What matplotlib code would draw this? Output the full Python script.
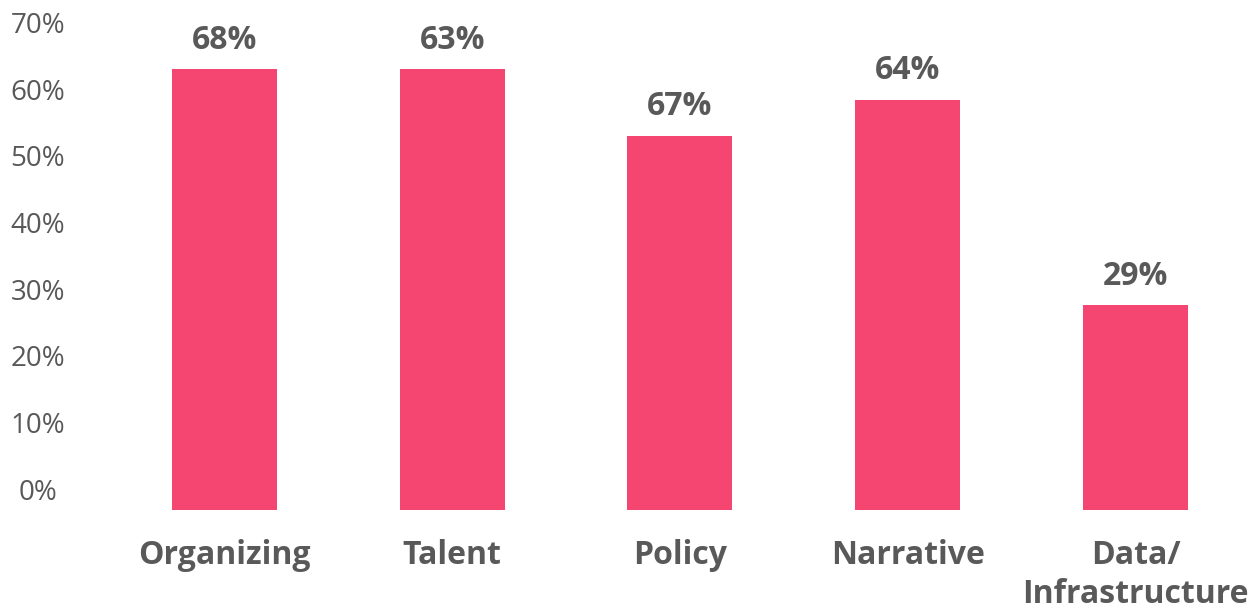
import matplotlib.pyplot as plt
import matplotlib.transforms as mtransforms

# 数据
categories = ["Organizing", "Talent", "Policy", "Narrative", "Data/\nInfrastructure"]
bar_values = [66.1, 66.1, 56.1, 61.5, 30.7]   # 柱子高度
bar_labels = ["68%", "63%", "67%", "64%", "29%"]  # 柱顶标注
y_ticks = [0, 10, 20, 30, 40, 50, 60, 70]

BAR_COLOR = "#F44670"
TEXT_COLOR = "#595959"

plt.rcParams['font.family'] = ['Open Sans', 'DejaVu Sans']

fig = plt.figure(figsize=(12.59, 6.12), dpi=100)
ax = fig.add_axes([110.6 / 1259, 102 / 612, 1138.75 / 1259, 500 / 612])

x = range(len(categories))
ax.bar(x, bar_values, width=0.461, color=BAR_COLOR)

for i, lab in enumerate(bar_labels):
    ax.annotate(lab, (i, bar_values[i]), xytext=(0, 21), textcoords="offset points",
                ha="center", va="center", fontsize=23, fontweight="bold", color=TEXT_COLOR)

ax.set_xlim(-0.5, 4.5)
ax.set_ylim(0, 75)

ax.set_xticks(list(x))
ax.set_xticklabels(categories, fontsize=23, fontweight="bold", color=TEXT_COLOR,
                   linespacing=1.25)
ax.tick_params(axis="x", length=0, pad=21)

ax.set_yticks(y_ticks)
ax.set_yticklabels([f"{v}%" for v in y_ticks], fontsize=20, color=TEXT_COLOR)
ax.tick_params(axis="y", length=0, pad=0)
# y轴标签整体上移，居中放在左侧
offset = mtransforms.ScaledTranslation(0, 21 / 100, fig.dpi_scale_trans)
for t in ax.get_yticklabels():
    t.set_transform(mtransforms.blended_transform_factory(fig.transFigure, ax.transData) + offset)
    t.set_horizontalalignment("center")
    t.set_x(38 / 1259)

for s in ax.spines.values():
    s.set_visible(False)

fig.savefig("out.png", dpi=100)
